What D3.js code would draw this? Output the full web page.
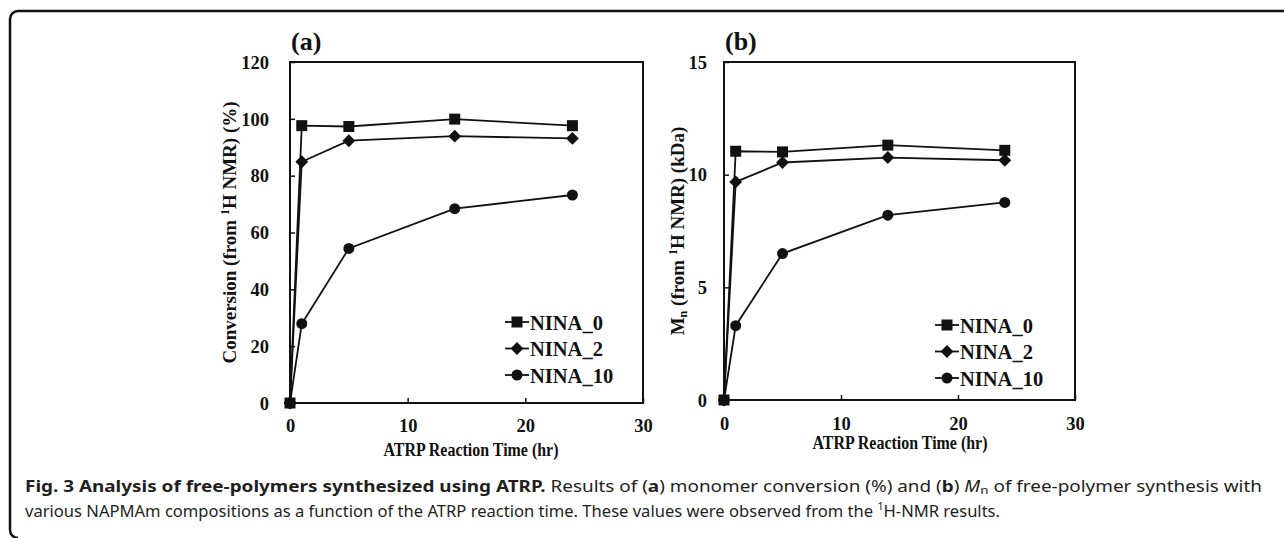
<!DOCTYPE html>
<html>
<head>
<meta charset="utf-8">
<script src="https://cdn.jsdelivr.net/npm/d3@7"></script>
<style>
  body { margin: 0; background: #fff; }
  svg { display: block; }
  .serif { font-family: "Liberation Serif", "Times New Roman", serif; font-weight: bold; fill: #111; }
  .caption { font-family: "Noto Sans", "Open Sans", sans-serif; fill: #231f20; font-size: 15.5px; }
</style>
</head>
<body>
<div id="chart"></div>
<script>
// Values (reaction time in hr)
const times = [0, 1, 5, 14, 24];
const seriesNames = ["NINA_0", "NINA_2", "NINA_10"];
const seriesSymbols = ["square", "diamond", "circle"];

// Panel (a): conversion from 1H NMR (%)
const conversionNina0 = [0, 97.6, 97.3, 99.9, 97.6];
const conversionNina2 = [0, 84.9, 92.3, 93.9, 93.1];
const conversionNina10 = [0, 27.9, 54.4, 68.4, 73.2];

// Panel (b): Mn from 1H NMR (kDa)
const mnNina0 = [0, 11.04, 11.01, 11.31, 11.08];
const mnNina2 = [0, 9.68, 10.54, 10.76, 10.64];
const mnNina10 = [0, 3.30, 6.50, 8.20, 8.77];

// Axis ticks
const xTicks = [0, 10, 20, 30];
const yTicksA = [0, 20, 40, 60, 80, 100, 120];
const yTicksB = [0, 5, 10, 15];

const width = 1284, height = 538;

const svg = d3.select("#chart").append("svg")
    .attr("width", width)
    .attr("height", height);

// Rounded frame round the figure (open on the right)
svg.append("path")
    .attr("d", "M1284,11 H18 A8,8 0 0 0 10,19 V530 A8,8 0 0 0 18,538")
    .attr("fill", "none")
    .attr("stroke", "#111")
    .attr("stroke-width", 2.5);

// Builds the marker path for one series
function markerPath(kind) {
    if (kind == "square") return d3.symbol(d3.symbolSquare, 121)();
    if (kind == "diamond") return d3.symbol(d3.symbolDiamond2, 105)();
    return d3.symbol(d3.symbolCircle, 95)();
}

// Draws one panel of the figure
function drawPanel(p) {
    let x = d3.scaleLinear().domain([0, 30]).range([p.left, p.right]);
    let y = d3.scaleLinear().domain(p.yDomain).range([p.bottom, p.top]);

    let g = svg.append("g");

    // Plot box
    g.append("rect")
        .attr("x", p.left).attr("y", p.top)
        .attr("width", p.right - p.left).attr("height", p.bottom - p.top)
        .attr("fill", "none").attr("stroke", "#111").attr("stroke-width", 2);

    // Inward ticks on the bottom and left
    let xAxis = d3.axisBottom(x).tickValues(xTicks).tickSizeInner(-5).tickSizeOuter(0).tickFormat(d3.format("d"));
    let yAxis = d3.axisLeft(y).tickValues(p.yTicks).tickSizeInner(-5).tickSizeOuter(0).tickFormat(d3.format("d"));

    let xg = g.append("g").attr("transform", "translate(0," + p.bottom + ")").call(xAxis);
    let yg = g.append("g").attr("transform", "translate(" + p.left + ",0)").call(yAxis);
    for (let ax of [xg, yg]) {
        ax.select(".domain").remove();
        ax.selectAll(".tick line").attr("stroke", "#111").attr("stroke-width", 1.5);
        ax.selectAll(".tick text")
            .attr("class", "serif")
            .attr("fill", "#111")
            .style("font-size", "18.5px");
    }
    xg.selectAll(".tick text").attr("y", 0).attr("dy", p.xLabelDy);
    yg.selectAll(".tick text").attr("x", -(p.left - p.yLabelRight)).attr("dy", "0.34em");

    // Panel letter
    g.append("text").attr("class", "serif")
        .attr("x", p.left + 1).attr("y", 50)
        .style("font-size", "26px")
        .text(p.letter);

    // Axis titles
    g.append("text").attr("class", "serif")
        .attr("x", p.xTitleX).attr("y", p.xTitleY)
        .attr("text-anchor", "middle")
        .attr("textLength", 175).attr("lengthAdjust", "spacingAndGlyphs")
        .style("font-size", "18px")
        .text("ATRP Reaction Time (hr)");

    let yt = g.append("text").attr("class", "serif")
        .attr("transform", "translate(" + p.yTitleX + "," + ((p.top + p.bottom) / 2) + ") rotate(-90)")
        .attr("text-anchor", "middle")
        .style("font-size", "19px");
    p.yTitle(yt);

    // Series lines and markers
    let line = d3.line()
        .x((d, i) => x(times[i]))
        .y(d => y(d));

    p.series.forEach((values, s) => {
        g.append("path")
            .datum(values)
            .attr("fill", "none")
            .attr("stroke", "#111")
            .attr("stroke-width", 1.8)
            .attr("d", line);
        g.selectAll(null)
            .data(values)
            .join("path")
            .attr("transform", (d, i) => "translate(" + x(times[i]) + "," + y(d) + ")")
            .attr("d", markerPath(seriesSymbols[s]))
            .attr("fill", "#111");
    });

    // Legend
    seriesNames.forEach((name, s) => {
        let ly = p.top + p.legendTop + s * 26.5;
        let lx = p.left + p.legendLeft;
        g.append("line")
            .attr("x1", lx).attr("x2", lx + 24)
            .attr("y1", ly).attr("y2", ly)
            .attr("stroke", "#111").attr("stroke-width", 1.8);
        g.append("path")
            .attr("transform", "translate(" + (lx + 12) + "," + ly + ")")
            .attr("d", markerPath(seriesSymbols[s]))
            .attr("fill", "#111");
        g.append("text").attr("class", "serif")
            .attr("x", lx + 25).attr("y", ly + 7.5)
            .style("font-size", "20.5px")
            .text(name);
    });
}

drawPanel({
    letter: "(a)",
    left: 290, right: 643, top: 62, bottom: 403,
    yDomain: [0, 120], yTicks: yTicksA,
    yLabelRight: 269, xLabelDy: 29,
    xTitleX: 471, xTitleY: 456,
    yTitleX: 236,
    legendLeft: 215, legendTop: 260,
    series: [conversionNina0, conversionNina2, conversionNina10],
    yTitle: t => {
        t.append("tspan").text("Conversion (from ");
        t.append("tspan").attr("baseline-shift", "super").style("font-size", "12px").text("1");
        t.append("tspan").text("H NMR) (%)");
    }
});

drawPanel({
    letter: "(b)",
    left: 724, right: 1075, top: 62, bottom: 400,
    yDomain: [0, 15], yTicks: yTicksB,
    yLabelRight: 707, xLabelDy: 30,
    xTitleX: 900, xTitleY: 449,
    yTitleX: 684,
    legendLeft: 211, legendTop: 263,
    series: [mnNina0, mnNina2, mnNina10],
    yTitle: t => {
        t.append("tspan").text("M");
        t.append("tspan").attr("baseline-shift", "-3px").style("font-size", "12px").text("n");
        t.append("tspan").text(" (from ");
        t.append("tspan").attr("baseline-shift", "super").style("font-size", "12px").text("1");
        t.append("tspan").text("H NMR) (kDa)");
    }
});

// Figure caption
let cap1 = svg.append("text").attr("class", "caption")
    .attr("x", 25).attr("y", 492)
    .attr("textLength", 1237).attr("lengthAdjust", "spacingAndGlyphs");
cap1.append("tspan").style("font-weight", "bold").text("Fig. 3 Analysis of free-polymers synthesized using ATRP.");
cap1.append("tspan").text(" Results of (");
cap1.append("tspan").style("font-weight", "bold").text("a");
cap1.append("tspan").text(") monomer conversion (%) and (");
cap1.append("tspan").style("font-weight", "bold").text("b");
cap1.append("tspan").text(") ");
cap1.append("tspan").style("font-style", "italic").text("M");
cap1.append("tspan").attr("baseline-shift", "-2px").style("font-size", "11px").text("n");
cap1.append("tspan").text(" of free-polymer synthesis with");

let cap2 = svg.append("text").attr("class", "caption")
    .attr("x", 25).attr("y", 517)
    .attr("textLength", 975).attr("lengthAdjust", "spacingAndGlyphs");
cap2.append("tspan").text("various NAPMAm compositions as a function of the ATRP reaction time. These values were observed from the ");
cap2.append("tspan").attr("baseline-shift", "super").style("font-size", "10px").text("1");
cap2.append("tspan").text("H-NMR results.");
</script>
</body>
</html>
